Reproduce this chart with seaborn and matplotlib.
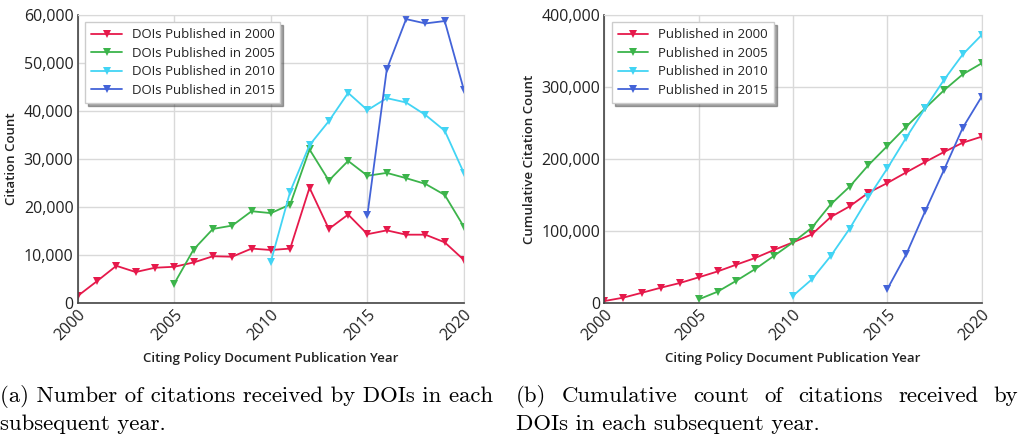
import pandas as pd
import seaborn as sns
import matplotlib.pyplot as plt
from matplotlib import ticker

# citations received per year (left panel)
years_2000 = list(range(2000, 2021))
cites_2000 = [1400, 4500, 7700, 6400, 7300, 7500, 8400, 9700, 9600, 11300, 11000,
              11300, 24000, 15400, 18400, 14300, 15100, 14200, 14200, 12600, 8900]
years_2005 = list(range(2005, 2021))
cites_2005 = [4000, 11100, 15400, 16100, 19100, 18700, 20500, 32000, 25500, 29600,
              26500, 27100, 26000, 24800, 22500, 15800]
years_2010 = list(range(2010, 2021))
cites_2010 = [8600, 23200, 32900, 37900, 43800, 40200, 42700, 41800, 39200, 35900, 27000]
years_2015 = list(range(2015, 2021))
cites_2015 = [18400, 48700, 59200, 58300, 58800, 44300]

# cumulative citations (right panel)
cum_2000 = [2300, 7000, 13900, 20900, 27400, 35300, 43500, 53000, 62300, 73500, 84000,
            95100, 119300, 134100, 153100, 166600, 181400, 195800, 209700, 222700, 231100]
cum_2005 = [4600, 15300, 30600, 46900, 65400, 84000, 104400, 136900, 161500, 191600,
            218100, 245000, 270500, 295600, 317900, 333200]
cum_2010 = [9700, 32500, 65000, 103000, 146600, 187000, 229700, 270500, 310000, 345700, 372600]
cum_2015 = [19000, 67300, 127100, 184700, 243600, 286800]

cohorts = ['2000', '2005', '2010', '2015']
colors = ['#e6194b', '#3cb44b', '#42d4f4', '#4363d8']

caption_a = ['(a) Number of citations received by DOIs in each', 'subsequent year.']
caption_b = ['(b) Cumulative count of citations received by', 'DOIs in each subsequent year.']


def build_df(prefix, values):
    frames = []
    for c, yrs, vals in zip(cohorts, [years_2000, years_2005, years_2010, years_2015], values):
        frames.append(pd.DataFrame({'Year': yrs, 'Count': vals,
                                    'Cohort': prefix + 'Published in ' + c}))
    return pd.concat(frames, ignore_index=True)


df_a = build_df('DOIs ', [cites_2000, cites_2005, cites_2010, cites_2015])
df_b = build_df('', [cum_2000, cum_2005, cum_2010, cum_2015])

sns.set_style('white')
plt.rcParams['font.family'] = ['Open Sans', 'DejaVu Sans']
plt.rcParams['text.color'] = '#222222'
plt.rcParams['axes.labelcolor'] = '#222222'
plt.rcParams['xtick.color'] = '#222222'
plt.rcParams['ytick.color'] = '#222222'

fig = plt.figure(figsize=(10.21, 4.38), dpi=100)
ax1 = fig.add_axes([0.0761, 0.3089, 0.3784, 0.6562])
ax2 = fig.add_axes([0.5919, 0.3089, 0.3696, 0.6562])


def style_axis(ax, df, ymax, ystep, ylabel):
    sns.lineplot(data=df, x='Year', y='Count', hue='Cohort', palette=colors,
                 marker='v', markersize=6, markeredgewidth=0, linewidth=1.3, ax=ax)
    ax.set_xlim(2000, 2020)
    ax.set_ylim(0, ymax)
    ax.set_xticks([2000, 2005, 2010, 2015, 2020])
    ax.yaxis.set_major_locator(ticker.MultipleLocator(ystep))
    ax.yaxis.set_major_formatter(ticker.StrMethodFormatter('{x:,.0f}'))
    ax.grid(True, color='#d9d9d9', linewidth=1)
    ax.set_axisbelow(True)
    for lbl in ax.get_xticklabels():
        lbl.set_rotation(45)
        lbl.set_ha('right')
        lbl.set_rotation_mode('anchor')
    ax.tick_params(axis='both', labelsize=11.5, length=0, pad=3)
    ax.set_xlabel('Citing Policy Document Publication Year', fontsize=9.5,
                  fontweight='semibold', labelpad=6)
    ax.set_ylabel(ylabel, fontsize=9.5, fontweight='semibold', labelpad=4)
    for s in ['top', 'right']:
        ax.spines[s].set_color('#d9d9d9')
    for s in ['left', 'bottom']:
        ax.spines[s].set_color('#444444')
        ax.spines[s].set_linewidth(1.2)
    sns.move_legend(ax, 'upper left', title=None, frameon=True, shadow=True,
                    fontsize=9.5, handlelength=2.3, handletextpad=0.75,
                    borderpad=0.45, labelspacing=0.42, borderaxespad=0,
                    bbox_to_anchor=(0.02, 0.975), fancybox=False, edgecolor='#cccccc')


style_axis(ax1, df_a, 60000, 10000, 'Citation Count')
style_axis(ax2, df_b, 400000, 100000, 'Cumulative Citation Count')

# captions, set in a TeX-like serif; line 1 of (b) is justified to its column
cap = dict(family='cmr10', fontsize=16.4, va='center', ha='left', color='black')
y1, y2 = 1 - 396 / 438, 1 - 424 / 438
fig.text(0.0, y1, caption_a[0], **cap)
fig.text(0.0, y2, caption_a[1], **cap)
fig.text(516 / 1021, y2, caption_b[1], **cap)

renderer = fig.canvas.get_renderer()
words = caption_b[0].split()
x0, x1 = 516.0, 1018.0
items = [fig.text(0, y1, w, **cap) for w in words]
widths = [t.get_window_extent(renderer).width for t in items]
gap = (x1 - x0 - sum(widths)) / (len(words) - 1)
x = x0
for t, w in zip(items, widths):
    t.set_x(x / 1021)
    x += w + gap

fig.savefig('out.png', dpi=100)
